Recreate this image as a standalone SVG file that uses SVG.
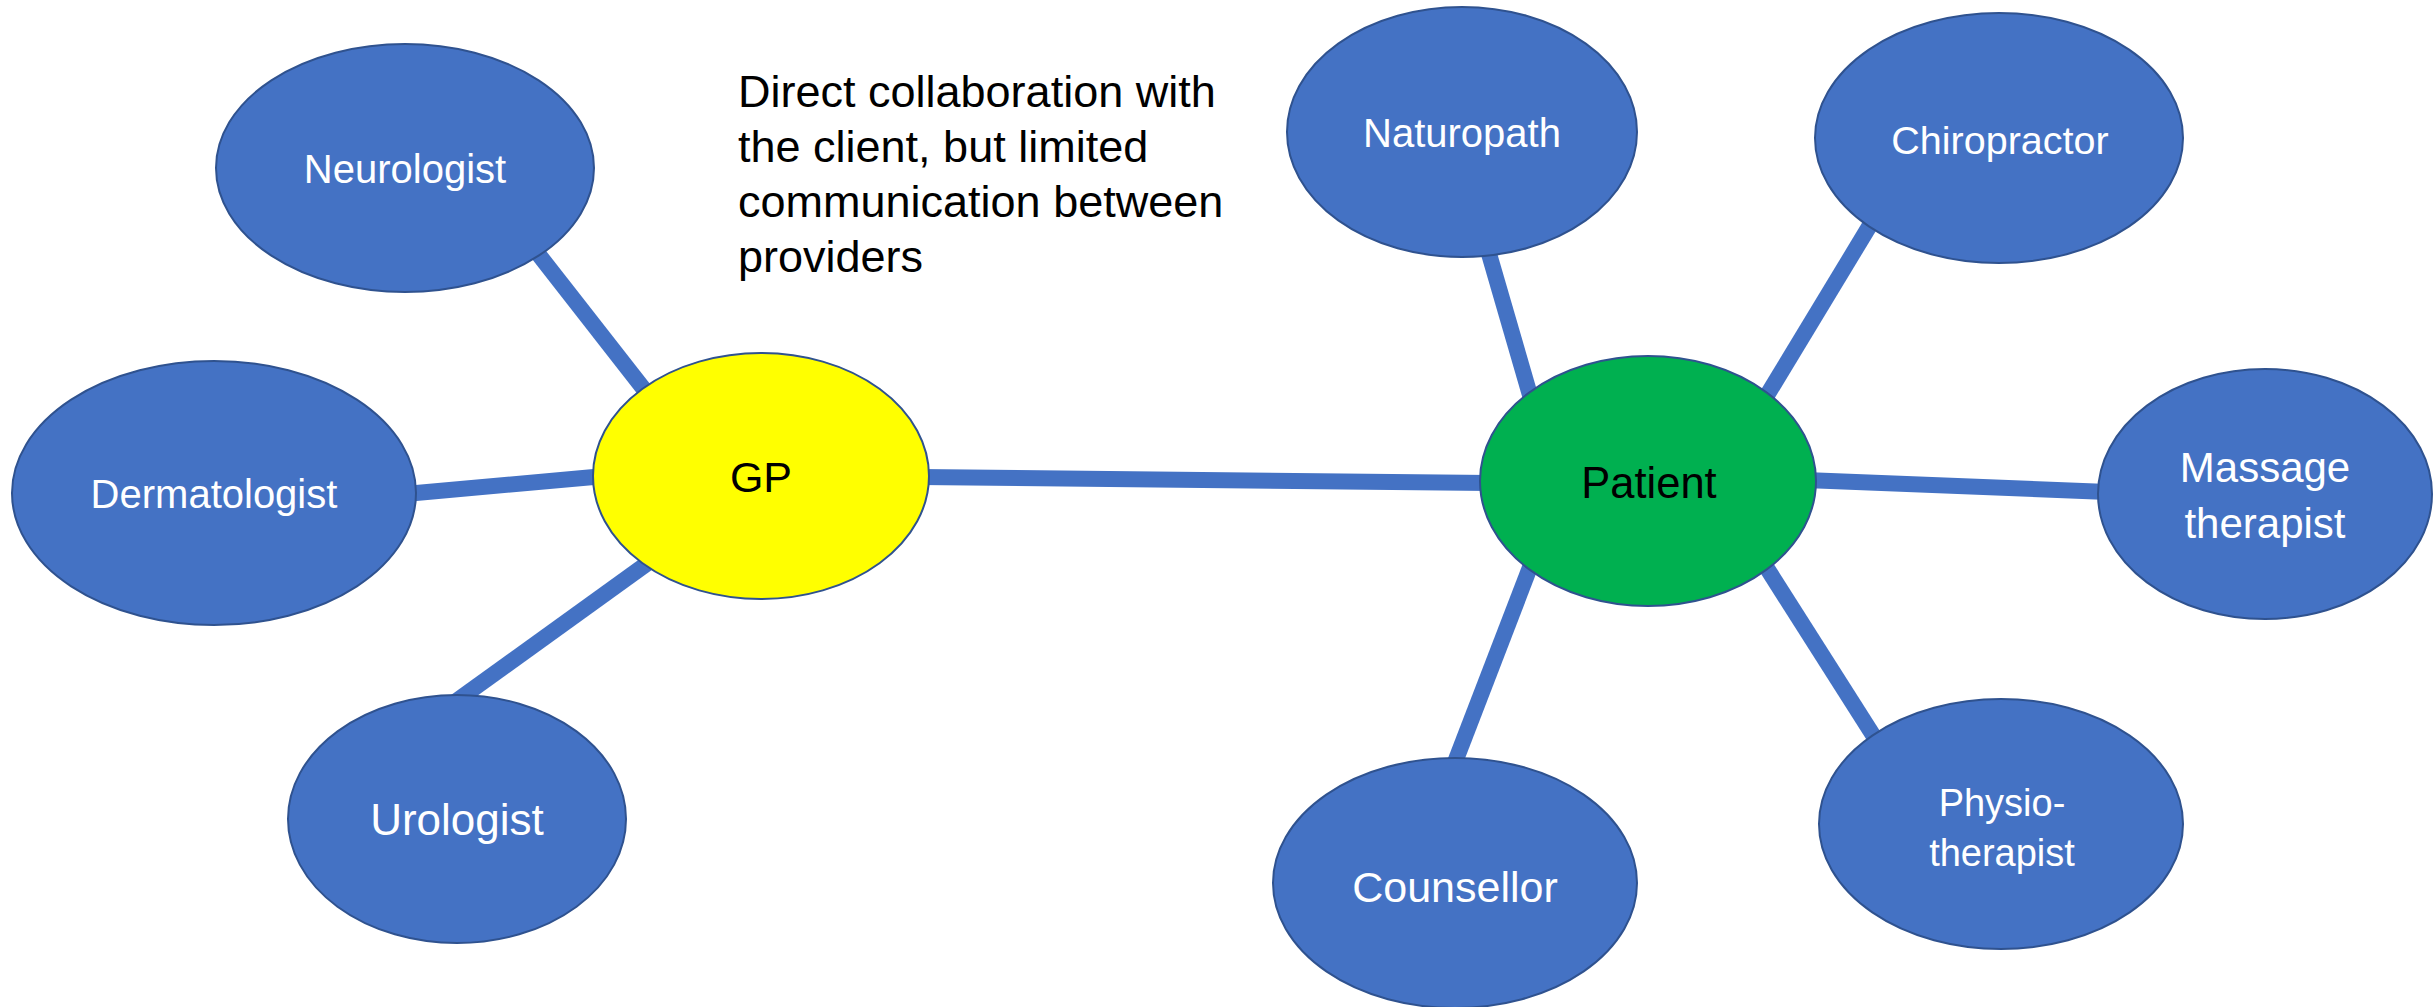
<svg xmlns="http://www.w3.org/2000/svg" width="2433" height="1007" viewBox="0 0 2433 1007">
  <style>
    .bg { fill: #ffffff; }
    .link { stroke: #4472C4; stroke-width: 16; fill: none; }
    .node { stroke: #2F528F; stroke-width: 2; }
    .blue { fill: #4472C4; }
    .gp { fill: #FFFF00; }
    .patient { fill: #00B050; }
    .label { font-family: "Liberation Sans", Arial, sans-serif; text-anchor: middle; fill: #ffffff; }
    .dark { fill: #000000; }
    .note { font-family: "Liberation Sans", Arial, sans-serif; font-size: 45px; fill: #000000; }
  </style>
  <rect class="bg" x="0" y="0" width="2433" height="1007"/>

  <!-- connectors, drawn beneath the ellipses -->
  <g id="connectors">
    <line class="link" x1="525" y1="237" x2="650" y2="397"/>
    <line class="link" x1="405" y1="494" x2="605" y2="476"/>
    <line class="link" x1="455" y1="702" x2="652" y2="560"/>
    <line class="link" x1="920" y1="477" x2="1490" y2="483"/>
    <line class="link" x1="1485" y1="240" x2="1532" y2="402"/>
    <line class="link" x1="1878" y1="212" x2="1763" y2="402"/>
    <line class="link" x1="1805" y1="480" x2="2108" y2="492"/>
    <line class="link" x1="1763" y1="562" x2="1880" y2="746"/>
    <line class="link" x1="1532" y1="562" x2="1452" y2="770"/>
  </g>

  <g id="neurologist">
    <ellipse class="node blue" cx="405" cy="168" rx="189" ry="124"/>
    <text class="label" x="405" y="183" font-size="40">Neurologist</text>
  </g>
  <g id="dermatologist">
    <ellipse class="node blue" cx="214" cy="493" rx="202" ry="132"/>
    <text class="label" x="214" y="508" font-size="40">Dermatologist</text>
  </g>
  <g id="urologist">
    <ellipse class="node blue" cx="457" cy="819" rx="169" ry="124"/>
    <text class="label" x="457" y="835" font-size="44">Urologist</text>
  </g>
  <g id="gp">
    <ellipse class="node gp" cx="761" cy="476" rx="168" ry="123"/>
    <text class="label dark" x="761" y="492" font-size="43">GP</text>
  </g>
  <g id="patient">
    <ellipse class="node patient" cx="1648" cy="481" rx="168" ry="125"/>
    <text class="label dark" x="1649" y="498" font-size="43.5">Patient</text>
  </g>
  <g id="naturopath">
    <ellipse class="node blue" cx="1462" cy="132" rx="175" ry="125"/>
    <text class="label" x="1462" y="147" font-size="40">Naturopath</text>
  </g>
  <g id="chiropractor">
    <ellipse class="node blue" cx="1999" cy="138" rx="184" ry="125"/>
    <text class="label" x="2000" y="154" font-size="39.5">Chiropractor</text>
  </g>
  <g id="massage-therapist">
    <ellipse class="node blue" cx="2265" cy="494" rx="167" ry="125"/>
    <text class="label" x="2265" y="482" font-size="42">Massage</text>
    <text class="label" x="2265" y="538" font-size="42">therapist</text>
  </g>
  <g id="physiotherapist">
    <ellipse class="node blue" cx="2001" cy="824" rx="182" ry="125"/>
    <text class="label" x="2002" y="816" font-size="38">Physio-</text>
    <text class="label" x="2002" y="866" font-size="38">therapist</text>
  </g>
  <g id="counsellor">
    <ellipse class="node blue" cx="1455" cy="883" rx="182" ry="125"/>
    <text class="label" x="1455" y="902" font-size="43">Counsellor</text>
  </g>

  <g id="note">
    <text class="note" x="738" y="107">Direct collaboration with</text>
    <text class="note" x="738" y="162">the client, but limited</text>
    <text class="note" x="738" y="217">communication between</text>
    <text class="note" x="738" y="272">providers</text>
  </g>
</svg>
